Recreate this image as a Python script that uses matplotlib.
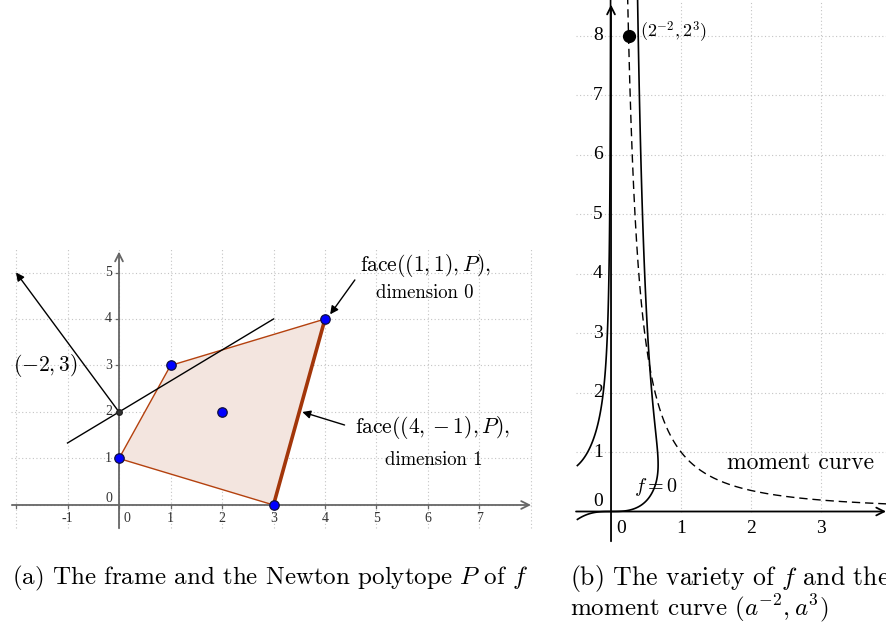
import numpy as np
import matplotlib
matplotlib.use("Agg")
import matplotlib.pyplot as plt

plt.rcParams["mathtext.fontset"] = "cm"
plt.rcParams["axes.unicode_minus"] = False

# ---------------- data: panel (a) ----------------
polytope_x = [0, 1, 4, 3]
polytope_y = [1, 3, 4, 0]
support_x = [0, 1, 4, 3, 2]
support_y = [1, 3, 4, 0, 2]
face_edge_x = [3, 4]
face_edge_y = [0, 4]
frame_point = (0, 2)
normal_tip = (-2, 5)
frame_line_x = [-1, 3]
frame_line_y = [1.3333, 4]
a_xticks = [-1, 0, 1, 2, 3, 4, 5, 6, 7]
a_yticks = [0, 1, 2, 3, 4, 5]

# ---------------- data: panel (b) ----------------
moment_param = np.linspace(0.504, 2.05, 400)   # parameter a of (a^-2, a^3)
marked_a = 2.0
# f = sum c * x^i * y^j over the Newton polytope support (coefficients)
f_exponents = [(0, 1), (1, 3), (4, 4), (3, 0), (2, 2)]
f_coeffs = [1.000, 2.095, -4.275, -1.278, -2.668]
b_xticks = [0, 1, 2, 3]
b_yticks = [0, 1, 2, 3, 4, 5, 6, 7, 8]

W, H = 886, 625
fig = plt.figure(figsize=(W / 100, H / 100), dpi=100)

GRID = dict(color="#c4c4c4", lw=0.8, ls=(0, (1, 2.2)), zorder=0)
TICKFONT = "Liberation Serif"

# ================= panel (a) =================
ax1 = fig.add_axes([0, (H - 540) / H, 540 / W, 300 / H])
ax1.set_xlim(-2.311, 8.175)
ax1.set_ylim(-0.753, 5.699)
ax1.axis("off")

for gx in range(-2, 9):
    ax1.plot([gx, gx], [-0.5, 5.5], **GRID)
for gy in range(0, 6):
    ax1.plot([-2.1, 8.0], [gy, gy], **GRID)

axc = "#666666"
ax1.annotate("", xy=(8.0, 0), xytext=(-2.08, 0),
             arrowprops=dict(arrowstyle="->", color=axc, lw=1.3,
                             shrinkA=0, shrinkB=0, mutation_scale=14))
ax1.annotate("", xy=(0, 5.45), xytext=(0, -0.5),
             arrowprops=dict(arrowstyle="->", color=axc, lw=1.3,
                             shrinkA=0, shrinkB=0, mutation_scale=14))
for t in range(-2, 8):
    ax1.plot([t, t], [0, -0.06], color=axc, lw=0.9)
for t in range(1, 6):
    ax1.plot([0, -0.06], [t, t], color=axc, lw=0.9)

for t in a_xticks:
    off = 0.15 if t == 0 else 0.0
    ax1.text(t + off, -0.3, str(t), ha="center", va="center",
             fontsize=10, family=TICKFONT, color="#333333")
for t in a_yticks:
    off = 0.14 if t == 0 else 0.0
    ax1.text(-0.2, t + off, str(t), ha="center", va="center",
             fontsize=10, family=TICKFONT, color="#333333")

ax1.fill(polytope_x, polytope_y, facecolor="#f3e5df", edgecolor="#b4410e",
         lw=1.0, zorder=2)
ax1.plot(face_edge_x, face_edge_y, color="#a3360a", lw=2.6, zorder=3,
         solid_capstyle="butt")
ax1.plot(frame_line_x, frame_line_y, color="black", lw=1.0, zorder=4)
ax1.annotate("", xy=normal_tip, xytext=frame_point,
             arrowprops=dict(arrowstyle="-|>", color="black", lw=1.0,
                             shrinkA=0, shrinkB=0, mutation_scale=12), zorder=4)
ax1.plot([frame_point[0]], [frame_point[1]], "o", ms=4, color="#333333",
         mec="#222222", zorder=5)
ax1.plot(support_x, support_y, "o", ms=6.8, color="#0000ff", mec="#101040",
         mew=0.9, ls="none", zorder=6)

ax1.text(5.96, 5.16, r"face$((1,1),P),$", ha="center", va="center",
         fontsize=15.5, family="cmr10")
ax1.text(5.94, 4.56, "dimension 0", ha="center", va="center",
         fontsize=13.5, family="cmr10")
ax1.text(6.10, 1.66, r"face$((4,-1),P),$", ha="center", va="center",
         fontsize=15.5, family="cmr10")
ax1.text(6.12, 0.97, "dimension 1", ha="center", va="center",
         fontsize=13.5, family="cmr10")
ax1.text(-1.44, 2.99, r"$(-2,3)$", ha="center", va="center", fontsize=15.5)
ax1.annotate("", xy=(4.1, 4.1), xytext=(4.58, 4.84),
             arrowprops=dict(arrowstyle="-|>", color="black", lw=1.0,
                             shrinkA=0, shrinkB=0, mutation_scale=12))
ax1.annotate("", xy=(3.56, 2.0), xytext=(4.38, 1.72),
             arrowprops=dict(arrowstyle="-|>", color="black", lw=1.0,
                             shrinkA=0, shrinkB=0, mutation_scale=12))

# ================= panel (b) =================
ax2 = fig.add_axes([560 / W, (H - 545) / H, 326 / W, 545 / H])
ax2.set_xlim(-0.729, 3.929)
ax2.set_ylim(-0.563, 8.597)
ax2.axis("off")

for gx in [1, 2, 3]:
    ax2.plot([gx, gx], [0, 8.6], **GRID)
for gy in range(1, 9):
    ax2.plot([-0.5, 3.93], [gy, gy], **GRID)

ax2.annotate("", xy=(3.93, 0), xytext=(-0.5, 0),
             arrowprops=dict(arrowstyle="->", color="black", lw=1.3,
                             shrinkA=0, shrinkB=0, mutation_scale=14))
ax2.annotate("", xy=(0, 8.52), xytext=(0, -0.5),
             arrowprops=dict(arrowstyle="->", color="black", lw=1.3,
                             shrinkA=0, shrinkB=0, mutation_scale=14))
for t in b_xticks:
    off = 0.15 if t == 0 else 0.0
    ax2.text(t + off, -0.28, str(t), ha="center", va="center",
             fontsize=14, family=TICKFONT)
for t in b_yticks:
    off = 0.16 if t == 0 else 0.0
    ax2.text(-0.19, t + off, str(t), ha="center", va="center",
             fontsize=14, family=TICKFONT)

# variety f = 0 drawn as the zero contour of f (view window starts at x = -0.49)
gx_ = np.linspace(-0.49, 3.929, 2200)
gy_ = np.linspace(-0.563, 8.597, 2200)
X, Y = np.meshgrid(gx_, gy_)
F = sum(c * X ** i * Y ** j for c, (i, j) in zip(f_coeffs, f_exponents))
ax2.contour(X, Y, F, levels=[0], colors="black", linewidths=1.2)

# moment curve (a^-2, a^3)
mx = moment_param ** -2.0
my = moment_param ** 3.0
ax2.plot(mx, my, color="black", lw=1.0, ls=(0, (6, 3.5)))
ax2.plot([marked_a ** -2], [marked_a ** 3], "o", ms=8.5, color="black")
ax2.text(0.414, 8.06, r"$(2^{-2},2^{3})$", ha="left", va="center", fontsize=13)
ax2.text(0.643, 0.41, r"$f=0$", ha="center", va="center", fontsize=14.5)
ax2.text(2.71, 0.815, "moment curve", ha="center", va="center",
         fontsize=17, family="cmr10")

# ================= captions =================
fig.text(12 / W, 1 - 578 / H,
         r"(a) The frame and the Newton polytope $P$ of $f$",
         ha="left", va="center", fontsize=18, family="cmr10")
fig.text(570 / W, 1 - 578 / H, r"(b) The variety of $f$ and the",
         ha="left", va="center", fontsize=18.5, family="cmr10")
fig.text(570 / W, 1 - 608 / H, r"moment curve $(a^{-2},a^3)$",
         ha="left", va="center", fontsize=18, family="cmr10")

fig.savefig("out.png", dpi=100)
